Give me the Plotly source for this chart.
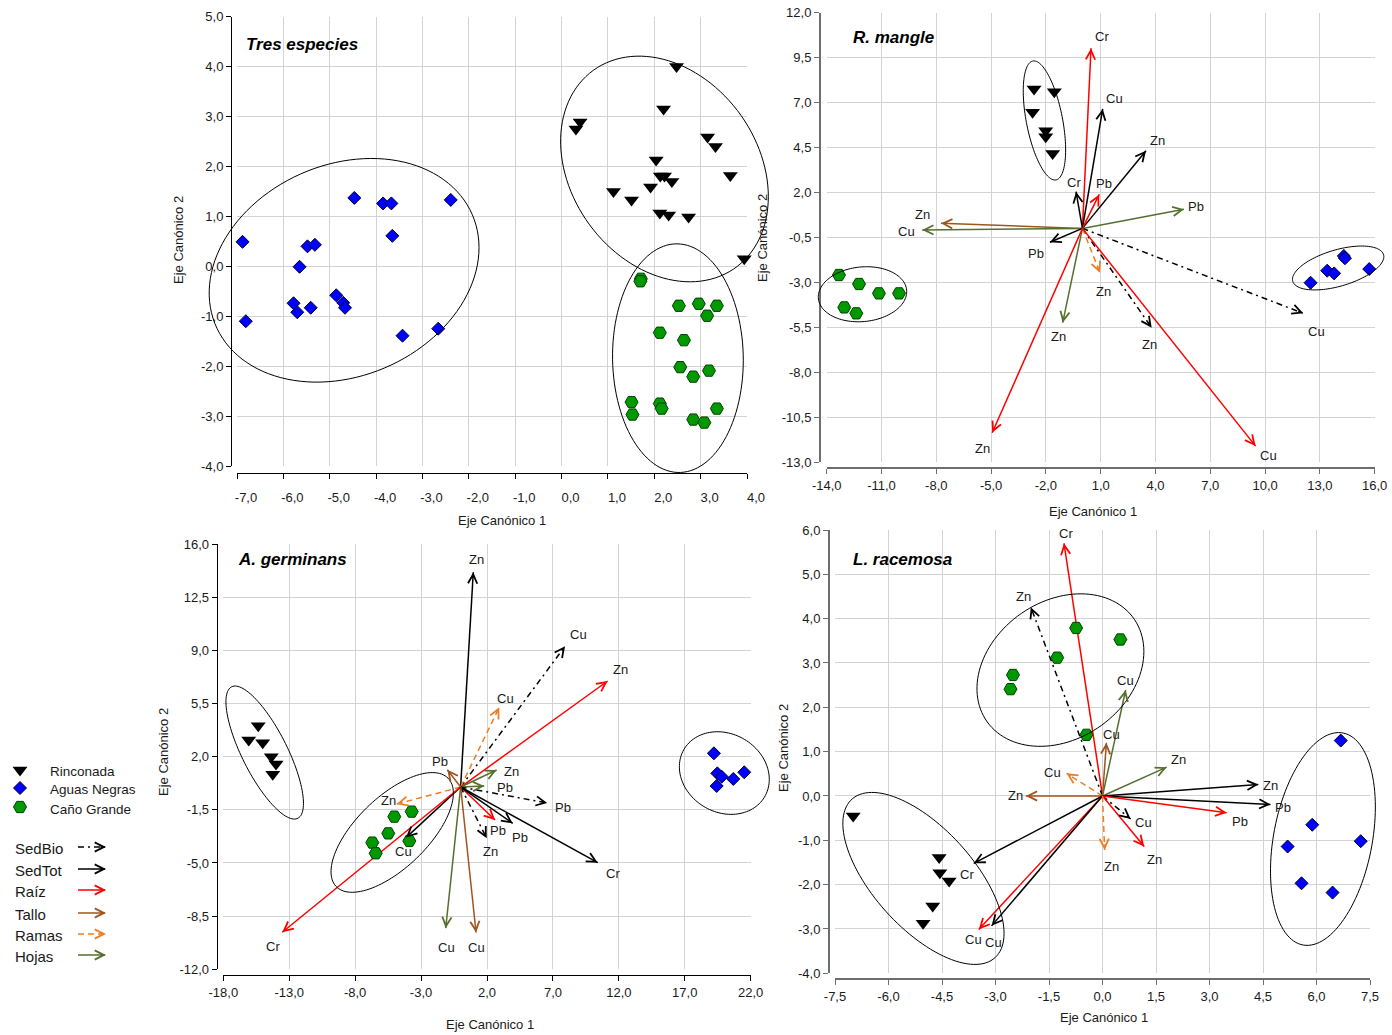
import numpy as np
import plotly.graph_objects as go

FIG_W, FIG_H = 1392, 1035
FONT = "Liberation Sans, Arial, Helvetica, sans-serif"
TXT = "#1a1a1a"

# ======================= DATA =======================
# ---- Panel 1: Tres especies ----
p1_rin_x = [2.48, 2.20, 0.40, 0.31, 3.15, 3.32, 2.04, 3.64, 2.13, 2.22, 2.38, 1.92, 1.12, 1.51, 2.12, 2.31, 2.74, 3.94]
p1_rin_y = [4.00, 3.15, 2.89, 2.75, 2.59, 2.40, 2.13, 1.82, 1.81, 1.81, 1.70, 1.59, 1.50, 1.33, 1.07, 1.03, 0.99, 0.15]
p1_agu_x = [-6.88, -6.81, -5.48, -5.32, -5.65, -5.78, -5.70, -5.41, -4.86, -4.71, -4.67, -4.47, -3.85, -3.67, -3.65, -3.43, -2.66, -2.39]
p1_agu_y = [0.49, -1.10, 0.40, 0.43, -0.01, -0.74, -0.92, -0.83, -0.58, -0.73, -0.83, 1.37, 1.26, 1.26, 0.61, -1.39, -1.25, 1.33]
p1_cg_x = [1.71, 1.70, 2.53, 2.96, 3.35, 3.14, 2.12, 2.64, 2.56, 3.18, 2.84, 1.51, 1.53, 2.12, 2.16, 3.35, 2.84, 3.08]
p1_cg_y = [-0.25, -0.30, -0.79, -0.75, -0.79, -0.99, -1.33, -1.48, -2.02, -2.09, -2.21, -2.72, -2.97, -2.75, -2.85, -2.85, -3.07, -3.13]

# ---- Panel 2: R. mangle ----
p2_rin_x = [-2.65, -1.54, -2.73, -2.01, -2.01, -1.63]
p2_rin_y = [7.75, 7.60, 6.45, 5.43, 5.10, 4.17]
p2_agu_x = [14.31, 14.37, 13.40, 13.78, 15.70, 12.49]
p2_agu_y = [-1.53, -1.66, -2.35, -2.50, -2.26, -3.02]
p2_cg_x = [-13.33, -12.23, -11.14, -10.04, -13.04, -12.38]
p2_cg_y = [-2.59, -3.09, -3.61, -3.61, -4.39, -4.72]
p2_arr_grp = ["Raíz", "SedTot", "SedTot", "Raíz", "SedTot", "Hojas", "SedBio", "SedBio", "Ramas", "Raíz", "Tallo", "Hojas", "SedTot", "Hojas", "Raíz"]
p2_arr_el = ["Cr", "Cu", "Zn", "Pb", "Cr", "Pb", "Cu", "Zn", "Zn", "Cu", "Zn", "Cu", "Pb", "Zn", "Zn"]
p2_arr_x = [0.47, 1.11, 3.48, 0.92, -0.35, 5.56, 12.09, 3.79, 0.96, 9.48, -7.74, -8.77, -1.78, -1.08, -4.94]
p2_arr_y = [10.01, 6.64, 4.32, 1.89, 2.04, 1.06, -4.72, -5.52, -2.47, -12.10, 0.28, -0.09, -0.77, -5.24, -11.36]
p2_lab_x = [1.05, 1.78, 4.12, 1.18, -0.46, 6.21, 12.82, 3.66, 1.18, 10.17, -8.75, -9.62, -2.54, -1.32, -5.48]
p2_lab_y = [10.65, 7.23, 4.91, 2.51, 2.54, 1.24, -5.74, -6.48, -3.52, -12.60, 0.80, -0.18, -1.39, -6.02, -12.22]

# ---- Panel 3: A. germinans ----
p3_rin_x = [-15.35, -16.07, -15.01, -14.36, -14.00, -14.25]
p3_rin_y = [4.04, 3.10, 2.92, 2.00, 1.51, 0.84]
p3_agu_x = [19.21, 19.47, 19.80, 20.68, 21.51, 19.42]
p3_agu_y = [2.22, 0.90, 0.68, 0.53, 0.97, 0.07]
p3_cg_x = [-3.71, -5.03, -5.49, -3.89, -6.70, -6.44]
p3_cg_y = [-1.62, -1.95, -3.05, -3.55, -3.66, -4.36]
p3_arr_grp = ["SedTot", "SedBio", "Raíz", "Ramas", "Hojas", "Hojas", "SedBio", "Raíz", "SedTot", "SedBio", "SedTot", "Tallo", "Hojas", "Tallo", "Ramas", "SedTot", "Raíz"]
p3_arr_el = ["Zn", "Cu", "Zn", "Cu", "Zn", "Pb", "Pb", "Pb", "Pb", "Zn", "Cr", "Cu", "Cu", "Pb", "Zn", "Cu", "Cr"]
p3_arr_x = [0.96, 7.92, 11.15, 2.93, 2.73, 1.79, 6.57, 2.61, 3.95, 1.98, 10.40, 1.17, -1.13, -1.01, -4.85, -4.14, -13.53]
p3_arr_y = [14.14, 9.27, 6.98, 5.25, 1.12, 0.07, -1.05, -2.17, -2.39, -3.37, -4.98, -9.58, -9.29, 1.14, -1.12, -3.33, -9.56]
p3_lab_x = [1.22, 8.92, 12.09, 3.37, 3.87, 3.37, 7.79, 2.86, 4.50, 2.23, 11.58, 1.17, -1.06, -1.56, -5.49, -4.35, -14.25]
p3_lab_y = [14.95, 10.01, 7.75, 5.80, 1.01, -0.02, -1.36, -2.83, -3.33, -4.26, -5.68, -10.55, -10.55, 1.67, -0.90, -4.26, -10.51]

# ---- Panel 4: L. racemosa ----
p4_rin_x = [-6.99, -4.58, -4.56, -4.30, -4.76, -5.03]
p4_rin_y = [-0.45, -1.39, -1.73, -1.92, -2.48, -2.87]
p4_agu_x = [6.68, 5.88, 5.19, 7.24, 5.58, 6.45]
p4_agu_y = [1.25, -0.65, -1.14, -1.02, -1.97, -2.18]
p4_cg_x = [-0.74, -1.27, -2.51, -2.58, -0.45, 0.50]
p4_cg_y = [3.79, 3.12, 2.73, 2.41, 1.38, 3.53]
p4_arr_grp = ["Raíz", "SedBio", "Ramas", "Tallo", "SedTot", "Raíz", "SedTot", "Hojas", "Tallo", "Hojas", "SedTot", "SedTot", "Raíz", "SedBio", "Raíz", "Ramas"]
p4_arr_el = ["Cr", "Zn", "Cu", "Zn", "Cr", "Cu", "Cu", "Cu", "Cu", "Zn", "Zn", "Pb", "Pb", "Cu", "Zn", "Zn"]
p4_arr_x = [-1.08, -2.01, -1.01, -2.15, -3.61, -3.47, -3.11, 0.65, 0.11, 1.80, 4.37, 4.71, 3.48, 0.79, 1.17, 0.06]
p4_arr_y = [5.70, 4.26, 0.51, 0.00, -1.52, -3.01, -2.93, 2.39, 1.20, 0.65, 0.26, -0.19, -0.38, -0.52, -1.14, -1.22]
p4_lab_x = [-1.03, -2.21, -1.40, -2.43, -3.81, -3.63, -3.05, 0.65, 0.25, 2.12, 4.72, 5.06, 3.85, 1.14, 1.47, 0.25]
p4_lab_y = [5.91, 4.51, 0.54, 0.00, -1.76, -3.23, -3.31, 2.60, 1.38, 0.83, 0.23, -0.26, -0.58, -0.59, -1.43, -1.58]

# ---- group ellipses: centre x, centre y, half-width, half-height, phase (deg) ----
ell_p1 = [(-4.69, -0.08, 2.91, 2.24, 78.3), (2.22, 1.95, 2.24, 2.26, 104.2), (2.51, -1.84, 1.41, 2.29, 91.0)]
ell_p2 = [(-2.08, 6.00, 1.16, 3.31, 119.7), (-12.04, -3.66, 2.42, 1.53, 84.5), (14.00, -2.20, 2.50, 1.22, 59.0)]
ell_p3 = [(-14.86, 2.27, 2.94, 4.38, 139.8), (-5.19, -2.99, 4.64, 3.94, 49.0), (20.00, 0.92, 3.41, 2.72, 98.8)]
ell_p4 = [(-1.18, 2.84, 2.34, 1.72, 75.9), (-5.02, -1.86, 2.26, 1.94, 129.7), (6.18, -0.97, 1.47, 2.40, 72.5)]

# ---- axes ticks ----
p1_xt = [-7, -6, -5, -4, -3, -2, -1, 0, 1, 2, 3, 4]
p1_yt = [-4, -3, -2, -1, 0, 1, 2, 3, 4, 5]
p2_xt = [-14, -11, -8, -5, -2, 1, 4, 7, 10, 13, 16]
p2_yt = [-13, -10.5, -8, -5.5, -3, -0.5, 2, 4.5, 7, 9.5, 12]
p3_xt = [-18, -13, -8, -3, 2, 7, 12, 17, 22]
p3_yt = [-12, -8.5, -5, -1.5, 2, 5.5, 9, 12.5, 16]
p4_xt = [-7.5, -6, -4.5, -3, -1.5, 0, 1.5, 3, 4.5, 6, 7.5]
p4_yt = [-4, -3, -2, -1, 0, 1, 2, 3, 4, 5, 6]

titles = ["Tres especies", "R. mangle", "A. germinans", "L. racemosa"]
legend_sites = ["Rinconada", "Aguas Negras", "Caño Grande"]
legend_groups = ["SedBio", "SedTot", "Raíz", "Tallo", "Ramas", "Hojas"]

# ======================= STYLE / LAYOUT =======================
STYLE = {
    "SedBio": dict(color="#000000", dash="6px,4px,2px,4px"),
    "SedTot": dict(color="#000000", dash="solid"),
    "Raíz": dict(color="#FF0000", dash="solid"),
    "Tallo": dict(color="#A0541E", dash="solid"),
    "Ramas": dict(color="#EE7D22", dash="6px,4px"),
    "Hojas": dict(color="#55702E", dash="solid"),
}
MK = {
    "Rinconada": dict(symbol="triangle-down", size=13, color="#000000", line=dict(width=0)),
    "Aguas Negras": dict(symbol="diamond", size=10, color="#0000FF", line=dict(width=1, color="#00002a")),
    "Caño Grande": dict(symbol="hexagon2", size=13, color="#009A00", line=dict(width=1, color="#004000")),
}

PIX = {
    1: dict(x0=237, x1=747, y0=16.7, y1=466, axx=231, axy=473, xr=(-7, 4), yr=(-4, 5)),
    2: dict(x0=826.7, x1=1374.7, y0=12.5, y1=462.3, axx=820, axy=468, xr=(-14, 16), yr=(-13, 12)),
    3: dict(x0=223.3, x1=750.7, y0=544, y1=969.3, axx=216.7, axy=975, xr=(-18, 22), yr=(-12, 16)),
    4: dict(x0=835, x1=1370, y0=530, y1=973.3, axx=829, axy=979.3, xr=(-7.5, 7.5), yr=(-4, 6)),
}
TICKS = {1: (p1_xt, p1_yt), 2: (p2_xt, p2_yt), 3: (p3_xt, p3_yt), 4: (p4_xt, p4_yt)}
AXCOL = {1: "#000000", 2: "#6e6e6e", 3: "#000000", 4: "#6e6e6e"}
AXW = {1: 1, 2: 2, 3: 1, 4: 2}
TITLE_POS = {1: (244, 45), 2: (851, 38), 3: (236, 559), 4: (851, 559)}
XT_POS = {1: (502, 520), 2: (1093, 511), 3: (490, 1024), 4: (1104, 1017)}
YT_POS = {1: (178, 240), 2: (763, 238), 3: (163, 752), 4: (783, 748)}

POINTS = {
    1: [(p1_rin_x, p1_rin_y), (p1_agu_x, p1_agu_y), (p1_cg_x, p1_cg_y)],
    2: [(p2_rin_x, p2_rin_y), (p2_agu_x, p2_agu_y), (p2_cg_x, p2_cg_y)],
    3: [(p3_rin_x, p3_rin_y), (p3_agu_x, p3_agu_y), (p3_cg_x, p3_cg_y)],
    4: [(p4_rin_x, p4_rin_y), (p4_agu_x, p4_agu_y), (p4_cg_x, p4_cg_y)],
}
ARROWS = {
    2: (p2_arr_grp, p2_arr_el, p2_arr_x, p2_arr_y, p2_lab_x, p2_lab_y),
    3: (p3_arr_grp, p3_arr_el, p3_arr_x, p3_arr_y, p3_lab_x, p3_lab_y),
    4: (p4_arr_grp, p4_arr_el, p4_arr_x, p4_arr_y, p4_lab_x, p4_lab_y),
}
ELLS = {1: ell_p1, 2: ell_p2, 3: ell_p3, 4: ell_p4}


def fmt(v):
    return f"{v:.1f}".replace(".", ",")


def dom(k):
    g = PIX[k]
    return [g["x0"] / FIG_W, g["x1"] / FIG_W], [1 - g["y1"] / FIG_H, 1 - g["y0"] / FIG_H]


def to_paper(k, x, y):
    g = PIX[k]
    xd, yd = dom(k)
    fx = (np.asarray(x) - g["xr"][0]) / (g["xr"][1] - g["xr"][0])
    fy = (np.asarray(y) - g["yr"][0]) / (g["yr"][1] - g["yr"][0])
    return xd[0] + fx * (xd[1] - xd[0]), yd[0] + fy * (yd[1] - yd[0])


def ppu(k):
    g = PIX[k]
    return (g["x1"] - g["x0"]) / (g["xr"][1] - g["xr"][0]), (g["y1"] - g["y0"]) / (g["yr"][1] - g["yr"][0])


fig = go.Figure()
annotations = []
shapes = []
layout_axes = {}

for k in (1, 2, 3, 4):
    g = PIX[k]
    xd, yd = dom(k)
    xid = "x" if k == 1 else f"x{k}"
    yid = "y" if k == 1 else f"y{k}"
    xt, yt = TICKS[k]
    common = dict(showgrid=True, gridcolor="#d3d3d3", gridwidth=1, zeroline=False,
                  showline=True, linecolor=AXCOL[k], linewidth=AXW[k], ticks="outside",
                  ticklen=5, tickwidth=1, tickcolor=AXCOL[k], anchor="free", automargin=False,
                  tickfont=dict(family=FONT, size=13, color=TXT), fixedrange=True)
    xa = dict(common, domain=xd, range=list(g["xr"]), position=1 - g["axy"] / FIG_H,
              tickmode="array", tickvals=xt, ticktext=[fmt(v) for v in xt])
    if k == 1:
        xa.update(ticklabelstandoff=7, ticklabelshift=9)
    ya = dict(common, domain=yd, range=list(g["yr"]), position=g["axx"] / FIG_W,
              tickmode="array", tickvals=yt, ticktext=[fmt(v) for v in yt])
    layout_axes["xaxis" if k == 1 else f"xaxis{k}"] = xa
    layout_axes["yaxis" if k == 1 else f"yaxis{k}"] = ya

    # arrows
    if k in ARROWS:
        grp, el, ax_, ay_, lx, ly = ARROWS[k]
        px_u, py_u = ppu(k)
        for gname, ename, x1, y1, tx, ty in zip(grp, el, ax_, ay_, lx, ly):
            st = STYLE[gname]
            fig.add_trace(go.Scatter(x=[0, x1], y=[0, y1], mode="lines", xaxis=xid, yaxis=yid,
                                     line=dict(color=st["color"], width=1.5, dash=st["dash"]),
                                     showlegend=False, hoverinfo="skip"))
            L = np.hypot(x1 * px_u, y1 * py_u)
            f = 1 - 7.0 / L
            annotations.append(dict(x=x1, y=y1, ax=x1 * f, ay=y1 * f, xref=xid, yref=yid,
                                    axref=xid, ayref=yid, showarrow=True, arrowhead=5,
                                    arrowsize=1.3, arrowwidth=1.4, arrowcolor=st["color"], text=""))
            annotations.append(dict(x=tx, y=ty, xref=xid, yref=yid, text=ename, showarrow=False,
                                    xanchor="center", yanchor="middle",
                                    font=dict(family=FONT, size=13, color=TXT)))

    # points
    for name, (xs, ys) in zip(legend_sites, POINTS[k]):
        fig.add_trace(go.Scatter(x=xs, y=ys, mode="markers", xaxis=xid, yaxis=yid, marker=MK[name],
                                 showlegend=False, hoverinfo="skip", cliponaxis=False))

    # ellipses (paper coordinates, not clipped)
    t = np.linspace(0, 2 * np.pi, 120)
    for (cx, cy, rx, ry, ph) in ELLS[k]:
        ex = cx + rx * np.cos(t)
        ey = cy + ry * np.cos(t - np.deg2rad(ph))
        qx, qy = to_paper(k, ex, ey)
        path = "M " + " L ".join(f"{a:.5f},{b:.5f}" for a, b in zip(qx, qy)) + " Z"
        shapes.append(dict(type="path", path=path, xref="paper", yref="paper",
                           line=dict(color="#000000", width=1)))

    # titles
    tx, ty = TITLE_POS[k]
    annotations.append(dict(x=tx / FIG_W, y=1 - ty / FIG_H, xref="paper", yref="paper",
                            xanchor="left", yanchor="middle", showarrow=False,
                            text=f"<b><i>{titles[k-1]}</i></b>",
                            font=dict(family=FONT, size=17, color="#000000")))
    ax_t = XT_POS[k]
    annotations.append(dict(x=ax_t[0] / FIG_W, y=1 - ax_t[1] / FIG_H, xref="paper", yref="paper",
                            xanchor="center", yanchor="middle",
                            showarrow=False, text="Eje Canónico 1",
                            font=dict(family=FONT, size=13, color=TXT)))
    ay_t = YT_POS[k]
    annotations.append(dict(x=ay_t[0] / FIG_W, y=1 - ay_t[1] / FIG_H, xref="paper", yref="paper",
                            xanchor="center", yanchor="middle",
                            showarrow=False, text="Eje Canónico 2", textangle=-90,
                            font=dict(family=FONT, size=13, color=TXT)))

# ---------------- legend (overlay subplot in pixel units) ----------------
LEG_X1, LEG_Y0, LEG_Y1 = 160.0, 700.0, 1035.0
layout_axes["xaxis5"] = dict(domain=[0, LEG_X1 / FIG_W], range=[0, LEG_X1], visible=False,
                             fixedrange=True, automargin=False)
layout_axes["yaxis5"] = dict(domain=[0, 1 - LEG_Y0 / FIG_H], range=[LEG_Y1, LEG_Y0], visible=False,
                             fixedrange=True, automargin=False)
site_y = [770, 788, 807]
site_ty = [771, 789, 809]
for name, yy, ty in zip(legend_sites, site_y, site_ty):
    fig.add_trace(go.Scatter(x=[20], y=[yy], mode="markers", xaxis="x5", yaxis="y5", marker=MK[name],
                             showlegend=False, hoverinfo="skip", cliponaxis=False))
    annotations.append(dict(x=48, y=ty, xref="x5", yref="y5", xanchor="left", yanchor="middle",
                            showarrow=False, text=name, font=dict(family=FONT, size=13.5, color=TXT)))
grp_y = [847, 869, 890, 913, 934, 955]
for gname, yy in zip(legend_groups, grp_y):
    st = STYLE[gname]
    annotations.append(dict(x=13, y=yy + 1, xref="x5", yref="y5", xanchor="left", yanchor="middle",
                            showarrow=False, text=gname, font=dict(family=FONT, size=15, color=TXT)))
    fig.add_trace(go.Scatter(x=[78, 105], y=[yy, yy], mode="lines", xaxis="x5", yaxis="y5",
                             line=dict(color=st["color"], width=1.5, dash=st["dash"]),
                             showlegend=False, hoverinfo="skip"))
    annotations.append(dict(x=106, y=yy, ax=99, ay=yy, xref="x5", yref="y5", axref="x5", ayref="y5",
                            showarrow=True, arrowhead=5, arrowsize=1.3, arrowwidth=1.4,
                            arrowcolor=st["color"], text=""))

fig.update_layout(width=FIG_W, height=FIG_H, autosize=False,
                  margin=dict(l=0, r=0, t=0, b=0, pad=0, autoexpand=False),
                  paper_bgcolor="white", plot_bgcolor="white", showlegend=False,
                  font=dict(family=FONT, size=13, color=TXT),
                  annotations=annotations, shapes=shapes, **layout_axes)

fig.write_html("out.html", config={"displayModeBar": False},
               post_script="document.body.style.margin='0px';document.body.style.overflow='hidden';")
